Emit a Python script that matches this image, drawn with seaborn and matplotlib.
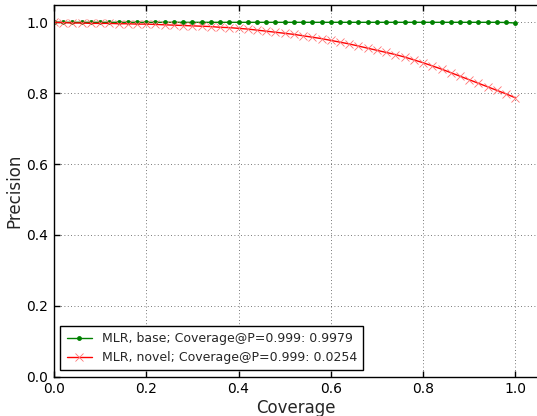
import numpy as np
import pandas as pd
import matplotlib
matplotlib.use("Agg")
import matplotlib.pyplot as plt
import seaborn as sns

coverage = [0.00, 0.02, 0.04, 0.06, 0.08, 0.10, 0.12, 0.14, 0.16, 0.18,
            0.20, 0.22, 0.24, 0.26, 0.28, 0.30, 0.32, 0.34, 0.36, 0.38,
            0.40, 0.42, 0.44, 0.46, 0.48, 0.50, 0.52, 0.54, 0.56, 0.58,
            0.60, 0.62, 0.64, 0.66, 0.68, 0.70, 0.72, 0.74, 0.76, 0.78,
            0.80, 0.82, 0.84, 0.86, 0.88, 0.90, 0.92, 0.94, 0.96, 0.98, 1.00]

precision_base = [1.000] * 49 + [0.9995, 0.998]

precision_novel = [1.000, 0.999, 0.998, 0.998, 0.997, 0.997, 0.997, 0.996, 0.996, 0.995,
                   0.995, 0.994, 0.993, 0.992, 0.991, 0.990, 0.989, 0.988, 0.986, 0.985,
                   0.983, 0.981, 0.978, 0.975, 0.972, 0.969, 0.966, 0.962, 0.958, 0.954,
                   0.949, 0.944, 0.939, 0.933, 0.927, 0.921, 0.915, 0.909, 0.902, 0.894,
                   0.886, 0.877, 0.868, 0.858, 0.848, 0.838, 0.828, 0.818, 0.808, 0.798, 0.787]

labels = ["MLR, base; Coverage@P=0.999: 0.9979",
          "MLR, novel; Coverage@P=0.999: 0.0254"]

sns.set_style("ticks")
plt.rcParams['font.family'] = ['DejaVu Sans']

fig = plt.figure(figsize=(5.37, 4.16), dpi=100)
ax = fig.add_axes([54 / 537, (416 - 376.7) / 416, 484.4 / 537, 372.1 / 416])

df_base = pd.DataFrame({"Coverage": coverage, "Precision": precision_base})
df_novel = pd.DataFrame({"Coverage": coverage, "Precision": precision_novel})

sns.lineplot(data=df_base, x="Coverage", y="Precision", ax=ax, color="green",
             marker="o", markersize=3.5, markeredgewidth=0, linewidth=1.0,
             label=labels[0])
sns.lineplot(data=df_novel, x="Coverage", y="Precision", ax=ax, color="red",
             marker="x", markersize=6, markeredgewidth=0.6, linewidth=1.0,
             label=labels[1])
for line in ax.lines[1:]:
    line.set_markeredgecolor((1.0, 0.45, 0.45))

ax.set_xlim(0, 1.05)
ax.set_ylim(0, 1.05)
ax.set_xticks([0.0, 0.2, 0.4, 0.6, 0.8, 1.0])
ax.set_yticks([0.0, 0.2, 0.4, 0.6, 0.8, 1.0])
ax.set_xticklabels(["0.0", "0.2", "0.4", "0.6", "0.8", "1.0"])
ax.set_yticklabels(["0.0", "0.2", "0.4", "0.6", "0.8", "1.0"])
ax.tick_params(direction="in", labelsize=10, length=4, width=1, colors="black",
               top=True, right=False, pad=4)
ax.grid(True, linestyle=(0, (1, 3)), color="black", linewidth=0.6, alpha=0.7)
for s in ax.spines.values():
    s.set_color("black")
    s.set_linewidth(1.0)
    s.set_visible(True)

ax.set_xlabel("Coverage", fontsize=12, labelpad=2)
ax.set_ylabel("Precision", fontsize=12, labelpad=2)

leg = ax.legend(loc="lower left", fontsize=9, fancybox=False, framealpha=1,
                edgecolor="black", borderaxespad=0.5, handlelength=2.0,
                borderpad=0.5, labelspacing=0.5)
leg.get_frame().set_linewidth(1.0)

fig.savefig("out.png", dpi=100)
